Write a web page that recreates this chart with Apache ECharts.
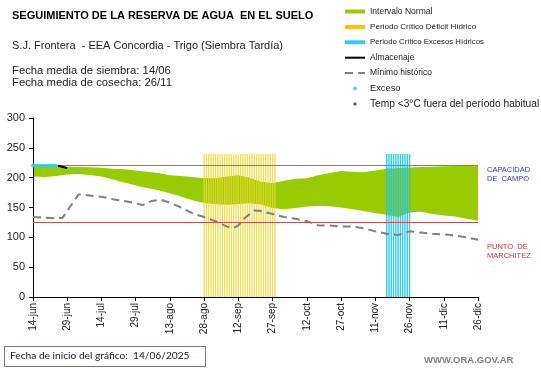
<!DOCTYPE html>
<html><head><meta charset="utf-8">
<script src="https://cdn.jsdelivr.net/npm/echarts@6/dist/echarts.min.js"></script>
<style>html,body{margin:0;padding:0;background:#fff}#c{width:541px;height:368px}</style>
</head><body><div id="c"></div>
<script>
// X ticks every 15 days starting 14-jun (day 0) to 26-dic (day 195)
const tickLabels = ['14-jun','29-jun','14-jul','29-jul','13-ago','28-ago','12-sep','27-sep','12-oct','27-oct','11-nov','26-nov','11-dic','26-dic'];
// Normal interval (band) sampled every 5 days
const bandDays    = [0,5,10,15,20,25,30,35,40,45,50,55,60,65,70,75,80,85,90,95,100,105,110,115,120,125,130,135,140,145,150,155,160,165,170,175,180,185,190,195];
const normalUpper = [220,219,219,218.5,218,217.5,216.5,215,214,212,210,208,204,203,201,199,199,202,204,200,193,191,195,198,199,204,208,211,210,209,212,215,216,217,218,218.5,219,219.5,220,220];
const normalLower = [202,201,203,205.5,206,204.5,202,197,192,187,182.5,179,174,168,162,157.5,155.5,154.5,156,157,155,149,147,149,151.5,152.5,152,150,147,144,140.5,138,134,141.5,143,139,136.5,135,131,128];
// Minimum historic (dashed)
const minDays = [0,5,10,13,16,20,25,30,35,40,45,48,52,56,60,65,70,75,80,85,88,90,93,97,100,105,110,115,120,125,130,135,140,145,150,155,160,165,170,175,180,185,190,195];
const minVals = [134,133,132,133,150,172,170,168,164,161,157,154,161,163,158,150,140,134,127,118,116,120,133,145,144,139,134,131,127,120,120,118,118,115,110,106,104,110,108,106,105,103,100,96];
// Almacenaje (storage)
const storageDays = [11,12,13,14,15];
const storageVals = [220,219,218,217,216];
// Exceso points
const excesoDays = [0,1,2,3,4,5,6,7,8,9,10];
const excesoVals = [220,220,220,220,220,220,220,220,220,220,220];
// Critical periods (days with a vertical bar)
const deficitDays = [75,76,77,78,79,80,81,82,83,84,85,86,87,88,89,90,91,92,93,94,95,96,97,98,99,100,101,102,103,104,105,106];
const excessDays  = [155,156,157,158,159,160,161,162,163,164,165];
const periodTop = 240;
const fieldCapacity = 220;
const wiltingPoint = 125;

const chart = echarts.init(document.getElementById('c'), null, {renderer:'canvas'});
const FF = 'Liberation Sans';
const richFor = {
  'Periodo Crítico Déficit Hídrico':'d',
  'Periodo Crítico Excesos Hídricos':'e',
  'Exceso':'x',
  'Temp <3°C fuera del período habitual':'t'
};
chart.setOption({
  animation:false,
  grid:{left:33, right:63, top:118, bottom:71, containLabel:false, outerBoundsMode:'none'},
  xAxis:{type:'value', min:0, max:195, interval:15,
    axisLine:{show:true, onZero:false, lineStyle:{color:'#000', width:1}},
    axisTick:{show:true, length:4, lineStyle:{color:'#000'}},
    splitLine:{show:false},
    axisLabel:{rotate:90, fontSize:10, color:'#222', fontFamily:FF, margin:6,
      formatter:v=>tickLabels[Math.round(v/15)]}},
  yAxis:{type:'value', min:0, max:300, interval:50,
    name:'Milímetros', nameLocation:'middle', nameGap:23,
    nameTextStyle:{fontSize:7, color:'#222', fontFamily:FF},
    axisLine:{show:true, lineStyle:{color:'#000', width:1}},
    axisTick:{show:true, length:4, lineStyle:{color:'#000'}},
    splitLine:{show:false},
    axisLabel:{fontSize:11, color:'#222', fontFamily:FF, margin:8}},
  legend:{orient:'vertical', left:344, top:6.5, padding:0, itemWidth:20, itemHeight:4, itemGap:5.4,
    selectedMode:false,
    textStyle:{fontSize:8.5, color:'#222', fontFamily:FF, lineHeight:10,
      rich:{
        d:{fontSize:8.1, color:'#222', fontFamily:FF, lineHeight:10},
        e:{fontSize:7.8, color:'#222', fontFamily:FF, lineHeight:10},
        x:{fontSize:9.3, color:'#222', fontFamily:FF, lineHeight:10},
        t:{fontSize:10.2, color:'#222', fontFamily:FF, lineHeight:10}
      }},
    formatter:n=> richFor[n] ? '{'+richFor[n]+'|'+n+'}' : n,
    data:[
      {name:'Intervalo Normal', icon:'rect', itemStyle:{color:'#99cc00'}},
      {name:'Periodo Crítico Déficit Hídrico', icon:'rect', itemStyle:{color:'#ffc000'}},
      {name:'Periodo Crítico Excesos Hídricos', icon:'rect', itemStyle:{color:'#33ccff'}},
      {name:'Almacenaje', itemStyle:{opacity:0}},
      {name:'Mínimo histórico', itemStyle:{opacity:0}},
      {name:'Exceso', icon:'circle'},
      {name:'Temp <3°C fuera del período habitual', icon:'path://M5,0 L10,5 L5,10 L0,5 Z'}
    ]},
  series:[
    {name:'Intervalo Normal', type:'custom', z:0, silent:true, clip:true,
      itemStyle:{color:'#99cc00'},
      encode:{x:0, y:[1,2]},
      data:bandDays.map((d,i)=>[d, normalLower[i], normalUpper[i]]),
      renderItem:(params, api)=>{
        if (params.dataIndex !== 0) return null;
        const pts = [];
        for (let i=0;i<bandDays.length;i++) pts.push(api.coord([bandDays[i], normalUpper[i]]));
        for (let i=bandDays.length-1;i>=0;i--) pts.push(api.coord([bandDays[i], normalLower[i]]));
        return {type:'polygon', shape:{points:pts}, style:{fill:'#99cc00'}};
      }},
    {name:'Periodo Crítico Déficit Hídrico', type:'bar', barWidth:1.4, barGap:'-100%', z:3, silent:true,
      itemStyle:{color:'rgba(235,215,55,0.8)'},
      data:deficitDays.map(d=>[d, periodTop])},
    {name:'Periodo Crítico Excesos Hídricos', type:'bar', barWidth:1.5, barGap:'-100%', z:3, silent:true,
      itemStyle:{color:'rgba(30,195,235,0.85)'},
      data:excessDays.map(d=>[d, periodTop])},
    {name:'Mínimo histórico', type:'line', symbol:'none', z:4, silent:true,
      itemStyle:{color:'#808080'},
      lineStyle:{color:'#808080', width:2, type:[8,5]},
      data:minDays.map((d,i)=>[d, minVals[i]]),
      markLine:{silent:true, symbol:['none','none'], label:{show:false},
        data:[
          {yAxis:fieldCapacity, lineStyle:{color:'#6a7bc8', width:1, type:'solid'}},
          {yAxis:wiltingPoint, lineStyle:{color:'#c0504d', width:1, type:'solid'}}
        ]}},
    {name:'Almacenaje', type:'line', symbol:'none', z:5, silent:true,
      itemStyle:{color:'#000'}, lineStyle:{color:'#000', width:2},
      data:storageDays.map((d,i)=>[d, storageVals[i]])},
    {name:'Exceso', type:'scatter', symbolSize:4, z:6, silent:true,
      itemStyle:{color:'#33ccee'},
      data:excesoDays.map((d,i)=>[d, excesoVals[i]])},
    {name:'Temp <3°C fuera del período habitual', type:'scatter', symbol:'diamond', symbolSize:6,
      itemStyle:{color:'#1f2a9c'}, data:[]}
  ],
  graphic:[
    {type:'text', left:12, top:10.5, style:{text:'SEGUIMIENTO DE LA RESERVA DE AGUA  EN EL SUELO', font:'bold 11px "Liberation Sans"', fill:'#000'}},
    {type:'text', left:12, top:40, style:{text:'S.J. Frontera  - EEA Concordia - Trigo (Siembra Tardía)', font:'11px "Liberation Sans"', fill:'#222'}},
    {type:'text', left:12, top:65.5, style:{text:'Fecha media de siembra: 14/06', font:'11.3px "Liberation Sans"', fill:'#222'}},
    {type:'text', left:12, top:77, style:{text:'Fecha media de cosecha: 26/11', font:'11.3px "Liberation Sans"', fill:'#222'}},
    {type:'text', left:487, top:166, style:{text:'CAPACIDAD\nDE  CAMPO', font:'7.5px "Liberation Sans"', lineHeight:8.5, fill:'#3340b8'}},
    {type:'text', left:487, top:243, style:{text:'PUNTO  DE\nMARCHITEZ', font:'7.5px "Liberation Sans"', lineHeight:8.5, fill:'#cc3333'}},
    {type:'rect', shape:{x:4.5, y:346.5, width:201, height:20}, style:{fill:'#fff', stroke:'#8a7272', lineWidth:1}},
    {type:'text', left:10, top:350.5, style:{text:'Fecha de inicio del gráfico:  14/06/2025', font:'10.2px Lato', fill:'#222'}},
    {type:'text', left:424, top:355, style:{text:'WWW.ORA.GOV.AR', font:'bold 9.5px "Liberation Sans"', fill:'#808080'}}
  ]
});
</script></body></html>
